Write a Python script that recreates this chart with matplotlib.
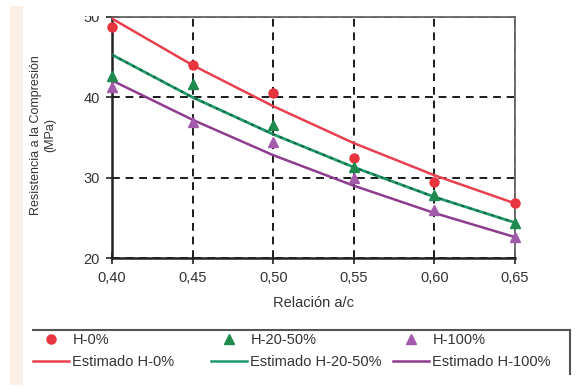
import matplotlib
matplotlib.use("Agg")
import matplotlib.pyplot as plt
from matplotlib.lines import Line2D
from matplotlib.patches import Rectangle

plt.rcParams['font.family'] = ['Liberation Sans', 'DejaVu Sans']

# Data
x_ac = [0.40, 0.45, 0.50, 0.55, 0.60, 0.65]
x_tick_labels = ["0,40", "0,45", "0,50", "0,55", "0,60", "0,65"]
y_ticks = [20, 30, 40, 50]

h0 = [48.7, 44.0, 40.5, 32.5, 29.4, 26.8]
h2050 = [42.7, 41.6, 36.5, 31.3, 27.8, 24.4]
h100 = [41.3, 36.9, 34.4, 30.0, 26.0, 22.6]

est_h0 = [49.8, 44.0, 38.9, 34.3, 30.3, 26.8]
est_h2050 = [45.3, 40.0, 35.4, 31.3, 27.6, 24.4]
est_h100 = [42.1, 37.2, 32.8, 29.0, 25.6, 22.6]

red_m, red_l = "#e8343e", "#e8404e"
green_m, green_l, green_d = "#1e8a4e", "#1f9a6c", "#17643e"
purple_m, purple_l = "#a35aab", "#8e3d8e"

W, H = 576, 387
fig = plt.figure(figsize=(W / 100, H / 100), dpi=100)
fig.patch.set_facecolor("white")

ax = fig.add_axes([112 / W, 1 - 258 / H, (515 - 112) / W, (258 - 17) / H])

ax.plot(x_ac, est_h0, color=red_l, lw=1.8, zorder=3)
ax.plot(x_ac, est_h2050, color=green_l, lw=2.0, zorder=3)
ax.plot(x_ac, est_h2050, color=green_d, lw=1.4, ls=(0, (1.5, 2.5)), zorder=3)
ax.plot(x_ac, est_h100, color=purple_l, lw=1.8, zorder=3)

ax.plot(x_ac, h0, 'o', color=red_m, ms=6.5, mec=red_m, zorder=5, clip_on=False)
ax.plot(x_ac, h2050, '^', color=green_m, ms=6.5, mec=green_m, zorder=5, clip_on=False)
ax.plot(x_ac, h100, '^', color=purple_m, ms=6.5, mec=purple_m, zorder=5, clip_on=False)

ax.set_xlim(0.40, 0.65)
ax.set_ylim(20, 50)
ax.set_xticks(x_ac)
ax.set_xticklabels(x_tick_labels)
ax.set_yticks(y_ticks)
ax.tick_params(direction='inout', length=8, width=1.2, color='#222222',
               labelsize=10.5, labelcolor='#333333', pad=5)
ax.grid(True, color='#1a1a1a', ls=(0, (4, 3)), lw=1.4)
ax.set_axisbelow(True)

for s in ['left', 'bottom']:
    ax.spines[s].set_color('#222222')
    ax.spines[s].set_linewidth(1.8)
for s in ['top', 'right']:
    ax.spines[s].set_color('#666666')
    ax.spines[s].set_linewidth(1.3)

ax.set_xlabel("Relación a/c", fontsize=10.5, color='#333333', labelpad=8)
ax.set_ylabel("Resistencia a la Compresión\n(MPa)", fontsize=9,
              color='#333333', multialignment='center')
ax.yaxis.set_label_coords(-0.139, 0.51)

# Legends (three columns, each with marker row and line row)
cols = [
    (33, ('o', red_m, red_l), "H-0%", "Estimado H-0%"),
    (211, ('^', green_m, green_l), "H-20-50%", "Estimado H-20-50%"),
    (393, ('^', purple_m, purple_l), "H-100%", "Estimado H-100%"),
]
for xpix, (mk, mc, lc), lab1, lab2 in cols:
    hm = Line2D([], [], ls='none', marker=mk, color=mc, ms=6.5)
    hl = Line2D([], [], color=lc, lw=1.8)
    leg = fig.legend([hm, hl], [lab1, lab2], loc='upper left',
                     bbox_to_anchor=(xpix / W, 1 - 333 / H),
                     frameon=False, fontsize=10.5, borderpad=0,
                     borderaxespad=0, handlelength=2.5, handletextpad=0.2,
                     labelspacing=0.55)
    for t in leg.get_texts():
        t.set_color('#333333')

# Legend frame (top and right borders)
fig.add_artist(Line2D([33 / W, 570 / W], [1 - 330 / H, 1 - 330 / H],
                      color='#555555', lw=1.5))
fig.add_artist(Line2D([570 / W, 570 / W], [1 - 330 / H, 1 - 374 / H],
                      color='#555555', lw=1.5))

# Peach strip on left
fig.add_artist(Rectangle((10 / W, 1 - 385 / H), 13 / W, 379 / H,
                         transform=fig.transFigure, facecolor='#fcefe6',
                         edgecolor='none', zorder=-1))
# Top crop (cuts the "50" label)
fig.add_artist(Rectangle((23 / W, 1 - 15.5 / H), 553 / W, 15.5 / H,
                         transform=fig.transFigure, facecolor='white',
                         edgecolor='none', zorder=20))

fig.savefig("out.png", dpi=100)
